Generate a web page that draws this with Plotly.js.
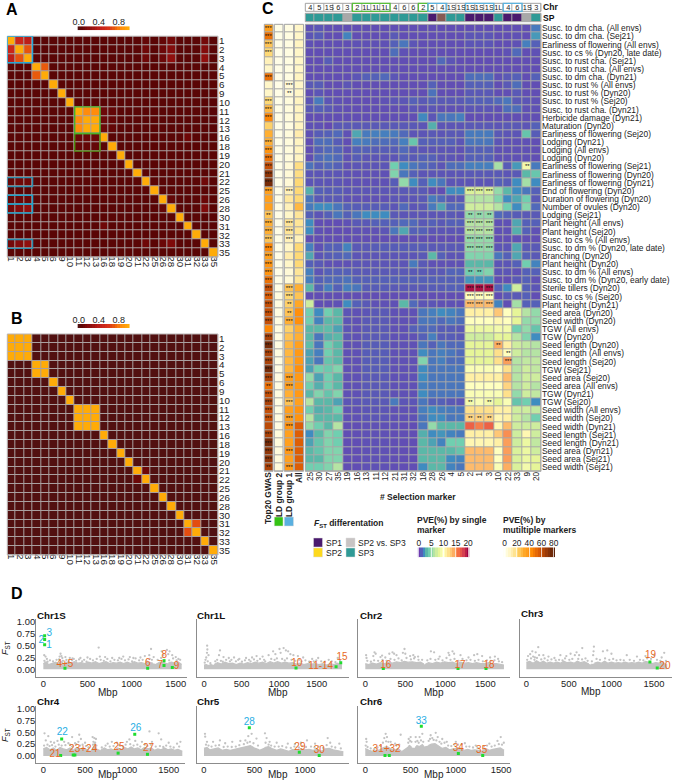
<!DOCTYPE html>
<html><head><meta charset="utf-8">
<script src="https://cdn.plot.ly/plotly-3.0.1.min.js"></script>
<style>html,body{margin:0;padding:0;background:#fff}#g{width:674px;height:780px}</style>
</head><body><div id="g"></div>
<script>
// ---------- DATA ----------
const markers=['1','2','3','4','5','6','9','10','11','12','13','16','18','19','20','21','22','25','26','28','30','31','32','33','35'];
const ldBaseA=.03, ldBaseB=0;
// sparse LD (r2) pairs [i,j,r2] between marker indices; the diagonal is 1
const ldPairsA=[[0,1,.5],[0,2,.42],[1,2,.7],[3,4,.72],[8,9,.85],[8,10,.85],[9,10,1],[0,16,.07],[1,16,.11],[2,16,.11],[0,18,.07],[1,18,.1],[2,18,.1],[0,19,.13],[1,19,.19],[2,19,.24],[0,23,.13],[1,23,.19],[2,23,.24],[8,11,.1],[9,11,.1],[10,11,.1],[8,12,.07],[9,12,.07],[10,12,.07],[11,21,.11],[16,23,.11],[18,23,.09],[19,23,.17],[18,19,.07]];
const ldPairsB=[[0,1,1],[0,2,1],[1,2,1],[3,4,1],[8,9,1],[8,10,1],[9,10,1],[15,16,.1],[21,22,.68]];
const selMarkers=['25','30','27','35','19','16','13','11','12','21','31','32','18','28','26','4','5','2','1','3','10','22','33','9','20'];
const chrLabels=['4','5','1S','6','3','2','1L','1L','1L','4','6','6','2','5','4','1S','1S','1S','1S','1S','1L','4','6','1S','3'];
const spClass=[3,3,3,3,2,3,3,3,3,3,3,3,3,0,1,3,3,0,0,0,3,0,0,2,3];
const traits=['Susc. to dm cha. (All envs)','Susc. to dm cha. (Sej21)','Earliness of flowering (All envs)','Susc. to cs % (Dyn20, late date)','Susc. to rust cha. (Sej21)','Susc. to rust cha. (All envs)','Susc. to dm cha. (Dyn21)','Susc. to rust % (All envs)','Susc. to rust % (Dyn20)','Susc. to rust % (Sej20)','Susc. to rust cha. (Dyn21)','Herbicide damage (Dyn21)','Maturation (Dyn20)','Earliness of flowering (Sej20)','Lodging (Dyn21)','Lodging (All envs)','Lodging (Dyn20)','Earliness of flowering (Sej21)','Earliness of flowering (Dyn20)','Earliness of flowering (Dyn21)','End of flowering (Dyn20)','Duration of flowering (Dyn20)','Number of ovules (Dyn20)','Lodging (Sej21)','Plant height (All envs)','Plant height (Sej20)','Susc. to cs % (All envs)','Susc. to dm % (Dyn20, late date)','Branching (Dyn20)','Plant height (Dyn20)','Susc. to dm % (All envs)','Susc. to dm % (Dyn20, early date)','Sterile tillers (Dyn20)','Susc. to cs % (Sej20)','Plant height (Dyn21)','Seed area (Dyn20)','Seed width (Dyn20)','TGW (All envs)','TGW (Dyn20)','Seed length (Dyn20)','Seed length (All envs)','Seed length (Sej20)','TGW (Sej21)','Seed area (Sej20)','Seed area (All envs)','TGW (Dyn21)','TGW (Sej20)','Seed width (All envs)','Seed width (Sej20)','Seed width (Dyn21)','Seed length (Sej21)','Seed length (Dyn21)','Seed area (Dyn21)','Seed area (Sej21)','Seed width (Sej21)'];
const pveSingle=[
[.6,.7,.5,.5,.5,.5,.5,.5,.5,.5,.5,.5,.5,.5,.5,.5,.5,.5,.5,.5,.5,.5,.5,.5,1.6],
[.7,.9,.5,.5,1.8,.5,.5,.5,.5,.8,.5,.5,.5,.5,.5,.5,.5,.7,.7,.7,.5,.5,.6,.5,2.3],
[.6,.5,.5,.5,.5,.6,.6,.6,.6,1,1.5,.7,.5,.5,.5,.5,.5,.7,.7,.7,.5,.5,.6,1.7,1],
[.5,.5,.5,.5,.5,.5,.5,.5,.5,1.3,.6,.5,.5,.5,.5,.5,.5,.5,.5,.5,.5,.6,1.2,.5,.6],
[.5,.5,.9,.5,.5,.5,.5,.5,.5,.5,.5,.5,.5,.5,1.2,.7,.5,.5,.5,.5,.5,.5,.5,.5,.5],
[.5,.5,.5,.5,.5,.5,.5,.5,.5,.5,.5,.5,.5,.5,.5,.5,.5,.5,.5,.5,.5,.5,.5,.5,.5],
[.5,.5,.5,.5,.5,.7,1,1,1.2,.7,.5,.5,.5,.5,.5,.5,.5,1.3,1.3,1.3,.6,.8,1,.5,1],
[.8,.9,.5,.5,.7,.5,.5,.5,.5,.5,.5,.5,.5,1,.5,.5,.5,1,1,1,.5,.8,1.3,.5,.5],
[.5,.7,.5,.5,.5,.5,.5,.5,.5,.5,.5,.5,.5,1.4,.5,.5,.5,.8,.8,.8,.5,.5,.8,.5,.5],
[.7,1.6,.7,.6,.5,.5,.5,.5,.6,.7,.7,1,.8,1,.8,.8,.8,1,1,1,1.2,1.5,.8,.7,.6],
[.8,1,.8,.6,.5,.5,.5,.5,.5,.5,.5,.7,.6,.7,.6,.6,.6,.7,.7,.7,.6,1.3,1.3,.6,.6],
[.5,.5,.5,.5,.5,.5,.5,.5,.5,.5,.5,.5,1.9,.7,1.5,1.5,1.7,.5,.5,.5,.5,.5,.5,.5,.5],
[.6,.6,.4,.8,.8,.8,.8,.8,.8,.8,.8,.8,.7,2.8,.7,.7,.7,.8,.8,.8,.7,.8,.8,.7,1],
[.6,.9,1,1.2,.6,2.6,1.6,1.7,1.7,1.6,1.2,.7,.7,.8,.7,.8,.8,1.6,1.6,1.6,.8,.7,.7,3.5,.9],
[.5,1.3,1.3,.9,.5,1.7,1.6,1.3,1.3,1.2,1.7,3.6,1,1,1,1,.7,1.5,1.5,1.5,.7,.6,.6,.6,.5],
[.5,1,1.2,1.1,.6,1,1,.9,.9,.9,1.2,.8,.7,.7,.7,.7,.6,1,1,1,.6,.6,.6,.6,.5],
[.5,1.2,1.4,1.2,.6,.9,.7,.7,.7,.7,1,.8,1,1,.7,.7,.6,1,1,1,.6,.6,.6,.6,.5],
[1.4,1,1.2,1,.6,.7,.7,.7,.7,4,2,1.5,1.2,1,.7,1.3,1.3,1.7,1.7,1.7,5.6,.9,2.3,9,1.6],
[.7,.7,.7,.7,.6,.6,.6,.6,.6,4.5,1.5,1,.7,.7,.7,.7,.7,.8,.8,.8,.8,.7,.8,3,3.6],
[.7,.7,.7,.7,.6,.6,.6,.6,.6,.9,5,2,1,2,1.5,.7,.7,.7,.7,.7,1,.9,2,5.5,2],
[2.8,1,.9,.9,.7,.7,.7,.7,.7,.7,.8,.8,.8,.5,.5,2,2,7.5,7.5,7.5,5,3,2,1.5,1],
[1.5,.8,.8,.8,.6,.6,.6,.6,.6,.7,.7,.7,.8,1.6,1.2,.8,.8,6,6,6,4.5,2,2.6,4,.8],
[1.6,2,2,1.5,1,.9,.9,.9,.9,.7,1.2,.7,.8,1.6,2.6,1.2,1.2,7,7,7,6,4,2,4.6,1.2],
[1,.7,1,1.5,1,1.5,2,2,2,.8,.7,.7,.7,.7,.7,.8,.7,5,5,5,1.2,1,.9,.8,.8],
[2,.5,.5,.5,.6,.8,.8,1,1,1,1.2,1.2,.8,1,.8,1,1,6,6,6,.6,.6,2.6,1,1],
[2,.6,.5,.5,.5,.6,.6,.6,.7,1.5,2.6,1,1,.7,.7,.7,.7,6,6,6,.6,.6,2.8,1,.6],
[.5,.5,.5,.5,.5,.5,.5,.5,.5,.5,.5,.5,.5,.5,.5,.5,.5,5,5,5,.5,.5,.6,.5,.5],
[1.7,.6,1,1,1.8,.8,.8,.9,.9,.9,.9,.9,.9,.8,.8,.8,.8,5,5,5,.7,.7,2.6,.8,.8],
[2.6,.7,.9,1,1.2,.7,.7,.7,.7,.7,.7,.7,.8,3,1,.7,.7,4.5,4.5,4.5,1.5,1,2.6,1,.8],
[1,.8,.6,.6,.6,.7,.7,.7,.7,.7,.7,1.6,.8,.6,.6,.6,.6,3,3,3,.7,.7,1,4,1.8],
[1.7,.7,1,1,1,.8,.8,.8,.8,.8,.8,.8,.8,.8,.8,1.1,1.1,4,4,4.5,.7,.7,.6,1,1],
[1.7,1,1.2,1.2,1.4,1,1,1,1,1,1,1,1,1,1,1,1,2.2,2.2,2.2,.5,.5,.8,1,.6],
[3,1,1.7,1,1.7,1.5,.9,.9,.9,.8,.8,.8,.8,.9,.9,1,1,19.5,19.5,19.5,1,2,7,1,.7],
[.5,.5,.5,.5,.5,.5,.5,.5,.5,.5,.5,.5,.5,.5,.5,.5,.5,10,10,10,.5,.8,.8,1,.5],
[7,.5,.5,.6,2,1,.8,.6,.6,.6,3,1.2,.7,.7,.6,.6,.6,13.5,13.5,13.5,1.8,.5,5.5,1,1],
[4,2,4,3,.7,.6,.7,.8,.8,.6,.6,.6,1.5,1.7,2,1.8,1.5,11,11,11,13,10,8,6,5],
[4,1.8,3,3,.7,.6,.8,.8,.8,.6,.6,.6,1.5,1.5,1.2,1.5,1.3,10,10,10,10.5,10,8,5,5],
[3,3,3.2,2.5,.7,.6,.8,.8,.8,.6,.6,1,1.2,1.2,.9,.9,.8,8.5,8.5,8.5,9,9,4,5,3.5],
[3,1.5,2.8,3,.7,.6,.8,.8,.8,.6,.6,.6,1,1.7,.9,.9,.8,7,7,7,8,8,6,4.5,2],
[3.2,1.5,4,3,.6,.6,.9,.9,.9,.6,.6,.6,1.5,1,1.5,1.2,1.2,8,8,8,14,11,7,6.5,6],
[2.5,1.7,4,3,.6,.6,.9,.9,.9,.6,.6,.6,2,1.5,1.7,1.5,1.2,8,8,8,12,10,7,6,6],
[2.5,1.5,3.5,3,.6,.6,.9,.9,.9,.6,.6,.6,4.5,1.5,1.7,1.3,1.3,8,8,8,12,14.5,6,6.5,6.5],
[2.5,4,3.8,4.5,.6,.6,.9,.9,.9,.6,.6,.6,2,1.5,1.5,1.5,1.5,9.5,9.5,9.5,10,12,6,7,6.5],
[5,2.5,4,3,.6,.6,.8,.8,.8,.6,.6,.6,2,1.5,1.5,1.5,1.5,11,11,11,11,13.5,6,7,7],
[4,2.8,4,3,.6,.6,.8,.8,.8,.6,.6,.6,1.7,1.5,1.5,1.5,1.5,10,10,10,10,12.5,6,7,6],
[3,4.5,3.5,4.5,.6,.6,.8,.8,.8,.6,.6,.6,2,1.5,1.5,1.5,1.5,9.5,9.5,9.5,9.5,12,5,7,6.5],
[6,3,3,2.5,.7,.7,.8,.8,.8,1.6,.7,.7,1.5,1,1,.8,.7,9,9.5,9,8,9.5,3.5,4,2],
[4,2.8,3,4,.6,.6,.7,.7,.7,.6,.6,.6,1.7,2,1.7,1.6,1.5,12,12,12,11,11,7,7,6.5],
[6,3,3,3,.6,.6,.7,.7,.7,.6,.6,.6,1.5,2,2,1.5,1.6,12.5,12.5,12.5,10.5,11,7,6,4],
[5,4,3,6,.5,.5,.6,.6,.6,.6,.5,.5,1.5,5,3,3,3,16.5,15.5,16.5,10.5,13.5,7,7,7],
[2,3,4.5,4,.5,.5,.6,.6,.6,.5,.5,.5,2.8,2,2.2,1.8,1.6,11,11,11,13,15,7,10.5,7],
[2.5,3.5,4.5,4,.5,.5,.6,.6,.6,.5,.5,.5,3,2.5,1.8,4,4,10.5,10.5,10.5,11,14.5,7,8.5,6.5],
[3,3.5,4.5,4.5,.5,.5,.6,.6,.6,.5,.5,.5,3,3,3,3,3.5,13.5,13.5,13.5,10,14.5,7.5,8.5,7],
[3,3,4.5,4.5,.5,.5,.6,.6,.6,.5,.5,.5,3,3,3,2,1.8,13.5,13.5,13.5,10,14.5,7.5,8.5,8],
[4,4,4.5,6,.5,.5,.6,.6,.6,.5,.5,.5,2,3,3,1.8,1.5,13.5,13.5,13.5,9.5,14,7.5,9,8]];
// significant single-marker cells: [row, col, stars]
const pveStars=[[17,23,2],[20,17,3],[20,18,3],[20,19,3],[23,17,2],[23,18,2],[23,19,2],[24,17,3],[24,18,3],[24,19,3],[25,17,3],[25,18,3],[25,19,3],[26,17,3],[26,18,3],[26,19,3],[27,17,3],[27,18,3],[27,19,3],[30,17,2],[30,18,2],[32,17,3],[32,18,3],[32,19,3],[33,17,3],[33,18,3],[33,19,3],[34,17,3],[34,18,3],[34,19,3],[39,20,2],[40,21,2],[41,21,3],[46,17,2],[46,19,2],[48,17,2],[48,18,2],[48,19,2]];
const pveGwas=[35,50,25,20,10,8,50,8,8,20,28,45,22,30,30,40,50,60,70,75,35,35,35,25,30,30,25,45,35,40,40,50,60,55,60,60,60,45,65,75,65,65,75,65,50,60,65,60,60,62,65,75,70,70,65];
const starGwas=[3,3,3,3,0,0,3,0,0,3,3,3,0,0,3,3,3,3,3,3,3,0,0,2,3,3,3,3,3,3,3,3,3,3,3,3,3,0,3,3,3,3,3,3,2,3,3,3,3,0,3,3,3,3,2];
const pveLd2=[2,2,2,2,2,2,2,2,2,2,2,2,2,2,2,2,2,2,2,2,2,2,2,2,2,2,2,2,2,2,2,2,2,3,3,3,3,3,3,3,3,3,3,3,3,3,3,3,3,3,4,4,4,4,4];
const pveLd1=[3,3,3,3,3,3,3,5,5,4,4,4,3,4,4,4,4,5,5,5,10,14,10,8,15,15,10,8,12,8,5,5,25,20,22,25,30,22,25,28,28,28,28,35,35,30,25,35,35,40,35,35,38,35,38];
const starLd1=[0,0,0,0,0,0,0,3,2,0,0,0,0,0,0,0,0,0,0,0,3,0,0,0,3,3,3,0,0,0,0,0,3,3,2,2,3,0,0,0,0,0,0,3,3,0,3,0,3,3,0,0,3,0,3];
const pveAll=[8,8,9,8,8,8,9,8,8,9,9,9,9,12,9,9,9,18,18,20,20,20,28,15,15,15,10,20,20,20,15,15,30,25,32,42,42,30,30,35,38,38,42,38,38,38,35,40,40,55,55,55,55,55,55];
const stackNames=['Top20 GWAS','LD group 2','LD group 1','All'];
// F_ST Manhattan panels: cloud silhouette (env) and scattered high points (pts = [Mbp, FST])
const c1S={name:'Chr1S',
 envX:[0,30,60,100,140,170,200,230,270,310,350,390,430,470,510,550,590,630,670,710,750,790,830,870,910,950,990,1030,1070,1110,1150,1190,1240,null,1280,1320,1380,null,1415,1450,1490,1530,1567],
 envY:[.12,.16,.1,.12,.15,.12,.17,.12,.15,.12,.16,.13,.14,.12,.15,.13,.16,.12,.14,.16,.12,.14,.13,.15,.12,.15,.12,.16,.13,.14,.12,.15,.13,null,.11,.15,.14,null,.13,.15,.13,.15,.1],
 pts:[[10,.3],[25,.27],[40,.22],[185,.27],[195,.33],[205,.28],[215,.24],[250,.26],[300,.24],[330,.23],[420,.24],[500,.25],[627,.46],[640,.27],[700,.26],[780,.24],[860,.24],[905,.27],[980,.26],[1020,.24],[1100,.25],[1150,.28],[1220,.43],[1200,.3],[1250,.26],[1340,.38],[1360,.3],[1400,.41],[1415,.32],[1430,.38],[1460,.3],[1500,.26],[1530,.22],
 [12,.18],[48,.16],[75,.19],[110,.17],[150,.2],[178,.21],[222,.18],[262,.2],[288,.17],[325,.19],[345,.22],[372,.18],[405,.21],[440,.17],[462,.2],[490,.16],[530,.22],[562,.19],[605,.22],[650,.2],[685,.18],[725,.22],[760,.17],[805,.2],[845,.19],[885,.22],[925,.19],[965,.21],[1005,.17],[1045,.23],[1085,.19],[1125,.2],[1170,.17],[1205,.22],[1230,.2],[1295,.2],[1335,.24],[1370,.2],[1425,.19],[1470,.23],[1510,.19],[1550,.2]],
 gX:[15,15,15,245,1182,1367,1367,1461],gY:[.71,.63,.52,.02,.02,.18,.08,.04],
 tX:[68,-23,64,245,1182,1370,1325,1510],tY:[.75,.62,.5,.11,.13,.285,.07,.055],tT:['3','2','1','4+5','6','8','7','9'],tC:[1,1,1,0,0,0,0,0]};
const c1L={name:'Chr1L',
 envX:[0,30,60,90,115,null,135,180,230,280,330,380,430,480,530,580,630,680,730,780,830,880,930,980,1030,1080,1130,1180,1230,1280,1330,1380,1430,1480,1530,1580,1630,1680,1730,1780,1837],
 envY:[.09,.1,.08,.1,.09,null,.1,.14,.11,.15,.12,.13,.1,.13,.11,.14,.12,.15,.13,.15,.12,.16,.13,.16,.13,.15,.13,.14,.11,.13,.1,.12,.11,.12,.1,.12,.09,.12,.1,.13,.09],
 pts:[[42,.5],[45,.42],[40,.35],[30,.25],[60,.3],[20,.2],[213,.4],[200,.3],[260,.26],[330,.24],[400,.25],[470,.22],[560,.24],[640,.25],[700,.28],[780,.27],[860,.3],[920,.38],[950,.32],[1005,.43],[1020,.35],[1060,.45],[1090,.4],[1120,.38],[1150,.32],[1190,.3],[1250,.28],[1320,.25],[1440,.22],[1520,.24],[1660,.2],[1780,.24],
 [10,.14],[50,.17],[85,.13],[150,.17],[175,.2],[225,.18],[250,.16],[295,.2],[345,.17],[365,.2],[425,.17],[455,.2],[505,.16],[545,.19],[600,.2],[620,.17],[665,.21],[710,.18],[745,.22],[800,.2],[815,.17],[895,.22],[940,.2],[970,.23],[1040,.22],[1075,.19],[1105,.23],[1165,.2],[1215,.18],[1265,.2],[1300,.17],[1350,.19],[1400,.16],[1460,.17],[1495,.19],[1560,.17],[1610,.16],[1700,.17],[1750,.15],[1810,.18]],
 gX:[1225,1758,1820],gY:[.03,.055,.14],tX:[1234,1554,1838],tY:[.13,.055,.255],tT:['10','11-14','15'],tC:[0,0,0]};
const c2={name:'Chr2',
 envX:[0,40,90,140,190,240,290,340,390,440,490,540,590,640,690,733,null,746,790,840,890,940,990,1040,1090,1140,1190,1240,1290,1340,1390,1440,1490,1540,1590,1640,1690,1733],
 envY:[.12,.1,.13,.11,.14,.12,.15,.13,.16,.14,.17,.15,.16,.14,.15,.11,null,.1,.14,.12,.15,.13,.16,.14,.15,.12,.15,.13,.14,.12,.14,.12,.12,.14,.12,.12,.11,.09],
 pts:[[10,.3],[100,.28],[130,.33],[115,.36],[190,.26],[210,.29],[300,.33],[340,.36],[360,.33],[390,.3],[470,.35],[490,.43],[500,.33],[560,.28],[600,.3],[620,.26],[820,.38],[860,.36],[930,.27],[1040,.35],[1050,.3],[1090,.38],[1110,.33],[1190,.3],[1290,.25],[1360,.3],[1400,.32],[1460,.28],[1560,.25],[1620,.27],[1660,.22],[15,.24],[250,.25],[660,.27],
 [25,.18],[70,.16],[110,.19],[160,.18],[215,.2],[265,.18],[315,.22],[365,.2],[415,.23],[455,.19],[515,.24],[570,.21],[610,.23],[665,.2],[710,.2],[775,.19],[815,.22],[875,.2],[915,.22],[965,.19],[1015,.24],[1065,.2],[1115,.22],[1165,.18],[1215,.22],[1265,.19],[1315,.2],[1370,.18],[1415,.2],[1470,.17],[1520,.19],[1570,.18],[1615,.19],[1670,.17],[1710,.15]],
 gX:[225,1159,1509],gY:[.015,.015,.015],tX:[255,1184,1546],tY:[.09,.09,.07],tT:['16','17','18'],tC:[0,0,0]};
const c3={name:'Chr3',
 envX:[0,40,80,120,160,200,240,280,320,360,400,440,480,520,560,600,640,680,735,null,763,775,null,800,840,880,920,960,1000,1040,1080,1120,1160,1200,1240,1280,1320,1360,1400,1440,1480,1520,1560,1600,1655],
 envY:[.15,.17,.13,.18,.14,.17,.13,.15,.13,.15,.13,.17,.14,.15,.13,.17,.14,.16,.11,null,.1,.11,null,.13,.15,.13,.17,.13,.15,.13,.14,.13,.15,.13,.14,.13,.15,.13,.17,.15,.12,.14,.13,.14,.09],
 pts:[[20,.28],[45,.32],[70,.38],[110,.36],[140,.47],[150,.3],[80,.27],[100,.25],[200,.3],[260,.27],[330,.24],[400,.3],[470,.28],[520,.33],[570,.3],[590,.36],[620,.3],[657,.45],[794,.48],[790,.38],[785,.3],[951,.4],[900,.38],[1000,.33],[1180,.3],[1300,.27],[1400,.28],[1620,.35],[1590,.25],[1500,.3],
 [10,.2],[55,.23],[95,.2],[125,.24],[175,.21],[215,.23],[250,.19],[295,.21],[345,.19],[385,.2],[425,.19],[455,.23],[505,.2],[540,.22],[610,.22],[655,.21],[695,.23],[720,.18],[770,.17],[825,.22],[865,.2],[925,.23],[975,.2],[1020,.22],[1060,.19],[1105,.2],[1145,.19],[1215,.2],[1265,.18],[1335,.2],[1375,.19],[1420,.23],[1465,.22],[1535,.2],[1575,.18],[1640,.18]],
 gX:[1452,1538],gY:[.155,.03],tX:[1460,1628],tY:[.3,.055],tT:['19','20'],tC:[0,0]};
const c4={name:'Chr4',
 envX:[0,40,80,120,160,200,240,280,320,360,400,440,480,520,557,null,590,610,640,null,688,730,770,810,850,890,930,970,1010,1050,1090,1130,1170,1210,1250,1290,1330,1370,1410,1450,1490,1530,1570,1610,1663],
 envY:[.15,.18,.13,.17,.12,.18,.15,.13,.17,.12,.18,.15,.17,.13,.1,null,.18,.2,.16,null,.12,.17,.13,.15,.12,.17,.13,.18,.15,.19,.15,.17,.13,.18,.15,.17,.12,.15,.13,.17,.13,.15,.12,.14,.1],
 pts:[[15,.48],[60,.42],[30,.33],[90,.3],[130,.28],[170,.32],[250,.3],[300,.27],[345,.4],[380,.27],[420,.3],[430,.45],[450,.36],[500,.28],[590,.4],[610,.38],[630,.36],[600,.3],[620,.28],[770,.26],[820,.3],[880,.28],[1000,.3],[1030,.35],[1100,.32],[1180,.3],[1270,.52],[1380,.48],[1300,.3],[1410,.35],[1500,.28],[1640,.3],[1600,.26],
 [10,.22],[50,.24],[75,.21],[105,.23],[145,.2],[185,.24],[220,.22],[265,.23],[320,.24],[345,.2],[395,.25],[440,.22],[470,.24],[510,.21],[540,.18],[595,.24],[615,.25],[635,.22],[700,.18],[745,.22],[795,.2],[840,.21],[905,.23],[950,.2],[985,.24],[1040,.25],[1080,.22],[1125,.24],[1160,.2],[1215,.24],[1245,.21],[1285,.24],[1345,.2],[1395,.21],[1435,.19],[1470,.22],[1520,.2],[1560,.18],[1625,.2]],
 gX:[220,208,358,378,895,1094,1246],gY:[.36,.01,.02,.02,.06,.46,.035],
 tX:[227,140,477,907,1106,1258],tY:[.5,.03,.14,.18,.58,.165],tT:['22','21','23+24','25','26','27'],tC:[1,0,0,0,1,0]};
const c5={name:'Chr5',
 envX:[0,30,60,100,140,180,220,260,300,340,380,420,460,500,548,null,600,640,680,720,760,800,840,880,920,960,1000,1040,1080,1120,1160,1200,1240,1280,1320,1380],
 envY:[.16,.18,.13,.15,.17,.12,.14,.12,.14,.15,.17,.2,.22,.17,.13,null,.18,.2,.15,.12,.15,.13,.1,.14,.12,.15,.13,.14,.12,.14,.1,.15,.16,.13,.12,.09],
 pts:[[10,.47],[12,.41],[30,.3],[90,.3],[158,.33],[210,.27],[280,.3],[360,.32],[439,.42],[472,.47],[520,.37],[410,.33],[604,.48],[620,.38],[650,.3],[720,.28],[830,.26],[900,.25],[960,.28],[1020,.33],[1100,.26],[1225,.38],[1250,.28],[1340,.26],
 [20,.24],[45,.22],[75,.2],[115,.22],[150,.23],[195,.19],[235,.2],[275,.19],[315,.2],[350,.23],[395,.25],[430,.28],[455,.3],[490,.27],[535,.22],[610,.28],[640,.24],[665,.22],[700,.2],[740,.2],[775,.21],[815,.18],[860,.17],[895,.2],[940,.18],[975,.21],[1010,.19],[1060,.2],[1095,.18],[1135,.2],[1180,.17],[1215,.23],[1265,.2],[1300,.18],[1355,.16]],
 gX:[449,944,1141],gY:[.6,.08,.01],tX:[449,950,1141],tY:[.72,.18,.12],tT:['28','29','30'],tC:[1,0,0]};
const c6={name:'Chr6',
 envX:[0,40,80,120,160,200,240,280,320,360,398,null,472,490,513,null,549,570,600,630,649,null,696,730,770,810,850,890,930,970,1010,1050,1090,1130,1170,1210,1250,1290,1330,1370,1410,1450,1490,1533],
 envY:[.16,.12,.1,.12,.13,.18,.2,.16,.12,.16,.1,null,.2,.22,.18,null,.17,.22,.2,.24,.2,null,.22,.25,.26,.2,.16,.18,.13,.15,.16,.17,.12,.14,.12,.13,.12,.1,.16,.12,.14,.16,.17,.12],
 pts:[[10,.36],[15,.3],[225,.47],[210,.38],[240,.4],[391,.45],[280,.3],[330,.26],[501,.4],[480,.36],[557,.4],[630,.47],[600,.4],[722,.44],[778,.49],[740,.38],[800,.4],[850,.36],[900,.3],[1000,.3],[1100,.27],[1220,.22],[1370,.26],[1496,.4],[1460,.32],[1530,.28],
 [5,.22],[25,.19],[60,.16],[100,.15],[135,.18],[170,.21],[195,.28],[230,.31],[255,.3],[290,.24],[345,.22],[375,.24],[475,.28],[495,.32],[510,.3],[555,.3],[575,.32],[590,.28],[615,.33],[640,.3],[700,.32],[715,.36],[755,.34],[785,.33],[820,.3],[840,.26],[875,.28],[915,.22],[950,.21],[985,.24],[1025,.24],[1065,.25],[1115,.2],[1150,.2],[1190,.18],[1240,.17],[1310,.2],[1345,.22],[1395,.2],[1430,.22],[1475,.25],[1510,.24]],
 gX:[218,265,619,1028,1297],gY:[.01,.01,.63,.05,.01],tX:[236,619,1028,1285],tY:[.14,.74,.165,.11],tT:['31+32','33','34','35'],tC:[0,1,0,0]};
const fstTicksY=[0,.25,.5,.75,1], fstTickText=['0.00','0.25','0.50','0.75','1.00'];
const mbpTicks5=[0,500,1000];
const mbpTicks=[0,500,1000,1500];

// ---------- STYLE ----------
const W=674,H=780;
const FONT='Liberation Sans, Arial, Helvetica, sans-serif';
const TXT='#222';
const LDCS=[[0,'#521010'],[.03,'#5a0505'],[.2,'#860c0c'],[.45,'#c4201a'],[.6,'#d83218'],[.72,'#e95a0c'],[.85,'#ff8c0c'],[1,'#ffab08']];
const PVECS=[[0,'#6d3bb0'],[.05,'#5560b8'],[.1,'#3f8cc0'],[.15,'#5bb8a8'],[.2,'#70cfb0'],[.3,'#b5e4a4'],[.4,'#e6f598'],[.5,'#ffffbf'],[.6,'#fee08b'],[.7,'#fdae61'],[.8,'#f46d43'],[.9,'#d53e4f'],[1,'#9e0142']];
const MULCS=[[0,'#fffff0'],[.1,'#fff6c8'],[.25,'#fed976'],[.4,'#ffa726'],[.55,'#ff8a05'],[.7,'#d95a06'],[.85,'#9a3a08'],[1,'#5a2008']];
const SPC=['#4a1a6e','#fdd91e','#c8c4c4','#2f9a96'];
const GRIDC='#a9a0a0', CGRID='#a8a8a8';
const layout={width:W,height:H,margin:{l:0,r:0,t:0,b:0},paper_bgcolor:'#fff',plot_bgcolor:'#fff',showlegend:false,font:{family:FONT,color:TXT},shapes:[],annotations:[]};
const data=[];
let n=1;
function axes(px0,px1,py0,py1,xo,yo){
  n++;
  const base={showgrid:false,zeroline:false,showline:false,ticks:'',fixedrange:true,showticklabels:false};
  layout['xaxis'+n]=Object.assign({},base,{domain:[px0/W,px1/W],anchor:'y'+n},xo);
  layout['yaxis'+n]=Object.assign({},base,{domain:[1-py1/H,1-py0/H],anchor:'x'+n},yo);
  return {x:'x'+n,y:'y'+n};
}
function backing(ref,color){layout.shapes.push({type:'rect',xref:ref.x+' domain',yref:ref.y+' domain',x0:0,x1:1,y0:0,y1:1,fillcolor:color,line:{width:0},layer:'below'});}
function outline(ref,color,w){layout.shapes.push({type:'rect',xref:ref.x+' domain',yref:ref.y+' domain',x0:0,x1:1,y0:0,y1:1,fillcolor:'rgba(0,0,0,0)',line:{width:w||1,color:color},layer:'above'});}
function note(px,py,text,o){layout.annotations.push(Object.assign({xref:'paper',yref:'paper',x:px/W,y:1-py/H,text:text,showarrow:false,xanchor:'left',yanchor:'middle',font:{size:8.5,color:TXT,family:FONT},borderpad:0,borderwidth:0},o||{}));}
function swatch(px0,px1,py0,py1,c){layout.shapes.push({type:'rect',xref:'paper',yref:'paper',x0:px0/W,x1:px1/W,y0:1-py1/H,y1:1-py0/H,fillcolor:c,line:{width:0.5,color:'#ddd'},layer:'above'});}
const idx=a=>a.map((_,i)=>i);
const starStr=s=>s===3?'***':s===2?'**':'';

// ---------- PANELS A, B ----------
function ldPanel(top,pairs,basev,frames){
  const N=markers.length;
  const z=markers.map((_,i)=>markers.map((_,j)=>i===j?1:basev));
  pairs.forEach(p=>{z[p[0]][p[1]]=p[2];z[p[1]][p[0]]=p[2];});
  const r=axes(7.3,218,top,top+221,
    {range:[-.5,N-.5],tickmode:'array',tickvals:idx(markers),ticktext:markers,showticklabels:true,tickangle:90,tickfont:{size:9.8,color:TXT},ticklabelstandoff:-2},
    {range:[N-.5,-.5],tickmode:'array',tickvals:idx(markers),ticktext:markers,showticklabels:true,side:'right',tickfont:{size:9.8,color:TXT},ticklabelstandoff:0});
  backing(r,GRIDC);
  data.push({type:'heatmap',z:z,x:idx(markers),y:idx(markers),xaxis:r.x,yaxis:r.y,xgap:1,ygap:1,colorscale:LDCS,zmin:0,zmax:1,showscale:false,hoverinfo:'skip'});
  outline(r,'#b9b4b4');
  (frames||[]).forEach(f=>layout.shapes.push({type:'rect',xref:r.x,yref:r.y,x0:f[0]-.5,x1:f[1]+.5,y0:f[2]-.5,y1:f[3]+.5,line:{color:f[4],width:1.4},fillcolor:'rgba(0,0,0,0)',layer:'above'}));
  // colour key
  const key=[0,.05,.1,.15,.2,.25,.3,.35,.4,.45,.5,.55,.6,.65,.7,.75,.8,.85,.9,.95,1];
  const k=axes(77.3,130,top-10,top-6,{range:[-.03,1.025],tickmode:'array',tickvals:[0,.4,.8],ticktext:['0.0','0.4','0.8'],showticklabels:true,side:'top',tickfont:{size:9,color:TXT},ticklabelstandoff:-2},{range:[-.5,.5]});
  data.push({type:'heatmap',z:[key],x:key,y:[0],xaxis:k.x,yaxis:k.y,colorscale:LDCS,zmin:0,zmax:1,showscale:false,hoverinfo:'skip'});
}
const frameBlue='#1fa0c8', frameBlue2='#2a8fb0', frameGreen='#47b52a', frameGreen2='#4f8f10';
ldPanel(36.2,ldPairsA,ldBaseA,[[0,2,0,2,'#22a8d8'],[0,2,16,16,frameBlue2],[0,2,18,18,frameBlue],[0,2,19,19,frameBlue],[0,2,23,23,frameBlue2],[8,10,11,12,frameGreen2],[8,10,8,10,frameGreen]]);
ldPanel(334,ldPairsB,ldBaseB,[]);

// ---------- PANEL C ----------
const Nr=traits.length, Nc=selMarkers.length;
const cTop=24.3,cBot=471.3,cL=305.3,cR=541;
const stMat=traits.map(()=>selMarkers.map(()=>''));
pveStars.forEach(s=>{stMat[s[0]][s[1]]=starStr(s[2]);});
const rc=axes(cL,cR,cTop,cBot,
  {range:[-.5,Nc-.5],tickmode:'array',tickvals:idx(selMarkers),ticktext:selMarkers,showticklabels:true,tickangle:-90,tickfont:{size:8.2,color:TXT},ticklabelstandoff:-2},
  {range:[Nr-.5,-.5],tickmode:'array',tickvals:idx(traits),ticktext:traits,showticklabels:true,side:'right',tickfont:{size:8.4,color:TXT},ticklabelstandoff:0});
backing(rc,CGRID);
data.push({type:'heatmap',z:pveSingle,x:idx(selMarkers),y:idx(traits),xaxis:rc.x,yaxis:rc.y,xgap:1,ygap:1,colorscale:PVECS,zmin:0,zmax:20,showscale:false,hoverinfo:'skip',text:stMat,texttemplate:'%{text}',textfont:{size:6,color:'#111'}});
outline(rc,CGRID);
// stacked multi-marker columns
const stackPx=[[264.3,273],[274.3,283],[284.3,293.5],[294.3,303.5]];
const stackVals=[pveGwas,pveLd2,pveLd1,pveAll];
const stackStars=[starGwas,null,starLd1,null];
const stackCenters=[268.5,279,289,299];
stackPx.forEach((p,c)=>{
  const r=axes(p[0],p[1],cTop,cBot,{range:[-.5,.5]},{range:[Nr-.5,-.5]});
  backing(r,CGRID);
  const t=traits.map((_,i)=>[stackStars[c]?starStr(stackStars[c][i]):'']);
  data.push({type:'heatmap',z:stackVals[c].map(v=>[v]),x:[0],y:idx(traits),xaxis:r.x,yaxis:r.y,ygap:1,xgap:0,colorscale:MULCS,zmin:0,zmax:80,showscale:false,hoverinfo:'skip',text:t,texttemplate:'%{text}',textfont:{size:6,color:'#111'}});
  outline(r,CGRID);
  note(stackCenters[c],472.5,'<b>'+stackNames[c]+'</b>',{textangle:-90,xanchor:'center',yanchor:'top',font:{size:8.4,color:TXT,family:FONT}});
});
swatch(274.3,283,517,526,'#35c315');
swatch(284.3,293.5,517,526,'#5ab0e0');
// Chr strip
const rChr=axes(cL,cR,3.3,11.3,{range:[-.5,Nc-.5]},{range:[.5,-.5]});
backing(rChr,CGRID);
data.push({type:'heatmap',z:[chrLabels.map(()=>0)],x:idx(chrLabels),y:[0],xaxis:rChr.x,yaxis:rChr.y,xgap:1,ygap:0,colorscale:[[0,'#fff'],[1,'#fff']],zmin:0,zmax:1,showscale:false,hoverinfo:'skip',text:[chrLabels],texttemplate:'%{text}',textfont:{size:7.4,color:'#222'}});
outline(rChr,CGRID);
[[5,8,'#59c03a'],[12,12,'#59c03a'],[13,14,'#5ab4e0'],[17,19,'#5ab4e0'],[21,22,'#5ab4e0']].forEach(f=>layout.shapes.push({type:'rect',xref:rChr.x,yref:rChr.y+' domain',x0:f[0]-.5,x1:f[1]+.5,y0:0,y1:1,line:{color:f[2],width:1.2},fillcolor:'rgba(0,0,0,0)',layer:'above'}));
// SP strip
const rSp=axes(cL,cR,13.3,21.7,{range:[-.5,Nc-.5]},{range:[.5,-.5]});
backing(rSp,CGRID);
data.push({type:'heatmap',z:[spClass.map(v=>v===2?null:v)],x:idx(spClass),y:[0],xaxis:rSp.x,yaxis:rSp.y,xgap:1,ygap:0,colorscale:[[0,SPC[0]],[.33,SPC[0]],[.34,SPC[1]],[.66,SPC[1]],[.67,SPC[3]],[1,SPC[3]]],zmin:0,zmax:3,showscale:false,hoverinfo:'skip'});
outline(rSp,CGRID);
note(543,7.5,'<b>Chr</b>',{font:{size:8.6,color:'#111',family:FONT}});
note(543,17.7,'<b>SP</b>',{font:{size:8.6,color:'#111',family:FONT}});
note(380,497,'<b># Selection marker</b>');
note(314,523,'<b><i>F</i><sub>ST</sub> differentation</b>');
note(417,519.5,'<b>PVE(%) by single</b>');
note(417,529.5,'<b>marker</b>');
note(503,519.5,'<b>PVE(%) by</b>');
note(503,529.5,'<b>mutiltiple markers</b>');
swatch(313.5,322.5,538,547,SPC[0]);
swatch(313.5,322.5,548,557,SPC[1]);
swatch(346,355,538,547,SPC[2]);
swatch(346,355,548,557,SPC[3]);
note(325.5,542.5,'SP1');note(325.5,553,'SP2');note(357.5,542.5,'SP2 vs. SP3');note(357.5,553,'SP3');
const keyS=[0,1,2,3,4,5,6,7,8,9,10,11,12,13,14,15,16,17,18,19,20];
const kS=axes(417.7,469.3,547.3,557.3,{range:[-.5,20.5],tickmode:'array',tickvals:[0,5,10,15,20],ticktext:['0','5','10','15','20'],showticklabels:true,side:'top',tickfont:{size:8.4,color:TXT},ticks:'inside',ticklen:10,tickcolor:'#fff',tickwidth:.7,ticklabelstandoff:-1},{range:[-.5,.5]});
data.push({type:'heatmap',z:[keyS],x:keyS,y:[0],xaxis:kS.x,yaxis:kS.y,colorscale:PVECS,zmin:0,zmax:20,showscale:false,hoverinfo:'skip'});
const keyM=[0,4,8,12,16,20,24,28,32,36,40,44,48,52,56,60,64,68,72,76,80];
const kM=axes(503.3,555,547.3,557.3,{range:[-2,82],tickmode:'array',tickvals:[0,20,40,60,80],ticktext:['0','20','40','60','80'],showticklabels:true,side:'top',tickfont:{size:8.4,color:TXT},ticks:'inside',ticklen:10,tickcolor:'#fff',tickwidth:.7,ticklabelstandoff:-1},{range:[-.5,.5]});
data.push({type:'heatmap',z:[keyM],x:keyM,y:[0],xaxis:kM.x,yaxis:kM.y,colorscale:MULCS,zmin:0,zmax:80,showscale:false,hoverinfo:'skip'});

// ---------- PANEL D ----------
const COLG='#c3c3c3',COLO='#e8681e',COLB='#28aee4',COLGRN='#1fdc2e';
function fstPanel(c,px0,px1,py0,py1,xr,yr,showY,ticks,titlePx,titlePy,mbpPx,mbpPy){
  const r=axes(px0,px1,py0,py1,
    {range:xr,tickmode:'array',tickvals:ticks,showticklabels:true,showline:true,linecolor:'#8c8c8c',linewidth:1,tickfont:{size:9.4,color:TXT},ticklabelstandoff:-2},
    {range:yr,tickmode:'array',tickvals:fstTicksY,ticktext:fstTickText,showticklabels:showY,showline:true,linecolor:'#8c8c8c',linewidth:1,tickfont:{size:9.4,color:TXT},ticklabelstandoff:-2});
  data.push({type:'scatter',mode:'lines',x:c.envX,y:c.envY,xaxis:r.x,yaxis:r.y,fill:'tozeroy',fillcolor:COLG,line:{color:COLG,width:1.2},hoverinfo:'skip',connectgaps:false});
  data.push({type:'scatter',mode:'markers',x:c.pts.map(p=>p[0]),y:c.pts.map(p=>p[1]),xaxis:r.x,yaxis:r.y,marker:{size:2.3,color:COLG},hoverinfo:'skip'});
  data.push({type:'scatter',mode:'markers',x:c.gX,y:c.gY,xaxis:r.x,yaxis:r.y,marker:{size:3,color:COLGRN,symbol:'square'},hoverinfo:'skip'});
  data.push({type:'scatter',mode:'text',x:c.tX,y:c.tY,text:c.tT,xaxis:r.x,yaxis:r.y,textposition:'middle center',textfont:{size:10,color:c.tC.map(v=>v?COLB:COLO)},hoverinfo:'skip',cliponaxis:false});
  note(titlePx,titlePy,'<b>'+c.name+'</b>',{font:{size:9.8,color:'#111',family:FONT}});
  note(mbpPx,mbpPy,'Mbp',{xanchor:'center',font:{size:10,color:TXT,family:FONT}});
}
const yTop=[-.157,1.06], yBot=[-.149,1.06];
fstPanel(c1S,36,186.7,619.3,676.7,[-83,1624],yTop,true,mbpTicks,36.7,615,108,692);
fstPanel(c1L,197.3,349,619.3,676.7,[-89,1930],yTop,false,mbpTicks,197.3,615,277.7,692);
fstPanel(c2,358.3,509.7,619.3,676.7,[-87.5,1805],yTop,false,mbpTicks,360,615,434,692.7);
fstPanel(c3,519.7,671.7,619.3,676.7,[-78,1708],yTop,false,mbpTicks,521.3,613.3,591.3,691);
fstPanel(c4,36,185,706,763,[-87,1695],yBot,true,mbpTicks,36.7,701.7,108,774);
fstPanel(c5,197.3,349,706,763,[-66,1436],yBot,false,mbpTicks5,197.3,701.7,277.7,774);
fstPanel(c6,358.3,509.7,706,763,[-77,1595],yBot,false,mbpTicks,360,701.7,434,774);
note(5,648,'<i>F</i><sub>ST</sub>',{textangle:-90,xanchor:'center',font:{size:9,color:TXT,family:FONT}});
note(5,735,'<i>F</i><sub>ST</sub>',{textangle:-90,xanchor:'center',font:{size:9,color:TXT,family:FONT}});
// panel letters
[['A',12,9.5],['B',17,318],['C',267.7,8.5],['D',17,593]].forEach(a=>note(a[1],a[2],'<b>'+a[0]+'</b>',{xanchor:'center',font:{size:16,color:'#000',family:FONT}}));

Plotly.newPlot('g',data,layout,{displayModeBar:false,staticPlot:true});
</script></body></html>
